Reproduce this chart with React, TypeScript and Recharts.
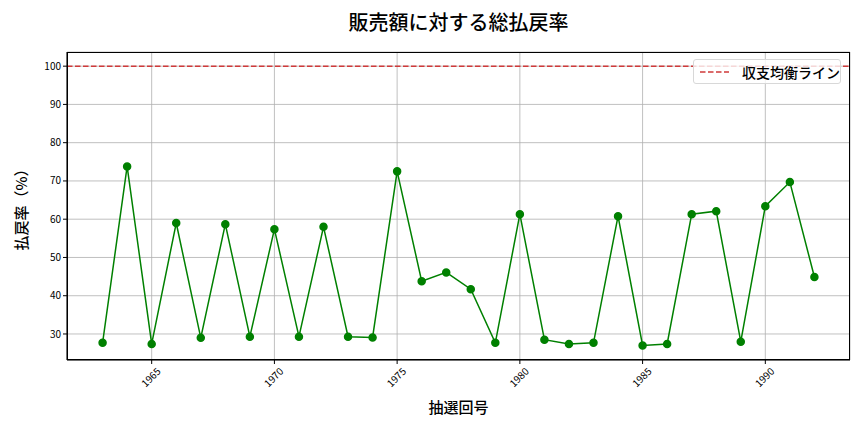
import { CartesianGrid, Line, LineChart, ReferenceLine, XAxis, YAxis } from "recharts";

const draws = [
  1963, 1964, 1965, 1966, 1967, 1968, 1969, 1970, 1971, 1972, 1973, 1974, 1975, 1976, 1977,
  1978, 1979, 1980, 1981, 1982, 1983, 1984, 1985, 1986, 1987, 1988, 1989, 1990, 1991, 1992,
];
const payoutRate = [
  27.7, 73.8, 27.4, 59.0, 29.0, 58.7, 29.3, 57.4, 29.3, 58.0, 29.3, 29.1, 72.5, 43.8, 46.1,
  41.7, 27.7, 61.3, 28.5, 27.4, 27.7, 60.8, 27.0, 27.4, 61.3, 62.1, 28.0, 63.4, 69.7, 44.9,
];
const xTicks = [1965, 1970, 1975, 1980, 1985, 1990];
const yTicks = [30, 40, 50, 60, 70, 80, 90, 100];
const breakEven = 100;

const data = draws.map((d, i) => ({ draw: d, rate: payoutRate[i] }));

const font = "'Noto Sans CJK JP', 'Noto Sans', sans-serif";

function XTick({ x, y, payload }: any) {
  return (
    <text
      x={x}
      y={y + 12}
      textAnchor="middle"
      dominantBaseline="middle"
      fontSize={10}
      fontFamily={font}
      fill="#000"
      transform={`rotate(-45 ${x} ${y + 12})`}
    >
      {payload.value}
    </text>
  );
}

export default function App() {
  return (
    <div style={{ position: "relative", width: 864, height: 432, background: "#fff", fontFamily: font }}>
      <style>{"body{margin:0}"}</style>
      <div
        style={{
          position: "absolute",
          top: 7,
          left: 67,
          width: 783,
          textAlign: "center",
          fontSize: 20,
          fontWeight: 500,
          color: "#000",
        }}
      >
        販売額に対する総払戻率
      </div>
      <LineChart width={864} height={432} data={data} margin={{ top: 52, right: 14, left: 0, bottom: 0 }}>
        <CartesianGrid stroke="#b0b0b0" strokeWidth={0.8} />
        <XAxis
          dataKey="draw"
          type="number"
          domain={[1961.55, 1993.45]}
          ticks={xTicks}
          tick={<XTick />}
          height={72}
          stroke="#000"
          tickSize={4}
          allowDataOverflow
          label={{ value: "抽選回号", position: "insideBottom", offset: 19, fontSize: 15, fontWeight: 500, fill: "#000", fontFamily: font }}
        />
        <YAxis
          type="number"
          domain={[23.2, 103.7]}
          ticks={yTicks}
          width={67}
          stroke="#000"
          tickSize={4}
          allowDataOverflow
          tick={{ fontSize: 10, fill: "#000", fontFamily: font }}
          label={{
            value: "払戻率（%）",
            angle: -90,
            position: "insideLeft",
            offset: 22,
            textAnchor: "middle",
            fontSize: 15,
            fontWeight: 500,
            fill: "#000",
            fontFamily: font,
          }}
        />
        <ReferenceLine y={breakEven} stroke="#d03a3a" strokeWidth={1.5} strokeDasharray="5.5 2.5" />
        <Line
          dataKey="rate"
          stroke="#008000"
          strokeWidth={1.5}
          dot={{ r: 3.5, fill: "#008000", stroke: "#008000" }}
          isAnimationActive={false}
        />
      </LineChart>
      <div
        style={{
          position: "absolute",
          left: 67,
          top: 52,
          width: 783,
          height: 308,
          boxSizing: "border-box",
          border: "1px solid #000",
          pointerEvents: "none",
        }}
      />
      <div
        style={{
          position: "absolute",
          left: 693,
          top: 59,
          width: 148,
          height: 25,
          boxSizing: "border-box",
          border: "1px solid #d8d8d8",
          borderRadius: 3,
          background: "rgba(255,255,255,0.8)",
          display: "flex",
          alignItems: "center",
          fontSize: 14,
          fontWeight: 500,
          color: "#000",
        }}
      >
        <svg width={44} height={10} style={{ marginLeft: 4 }}>
          <line x1={2} y1={5} x2={31} y2={5} stroke="#d03a3a" strokeWidth={1.5} strokeDasharray="5.5 2.5" />
        </svg>
        <span>収支均衡ライン</span>
      </div>
    </div>
  );
}
